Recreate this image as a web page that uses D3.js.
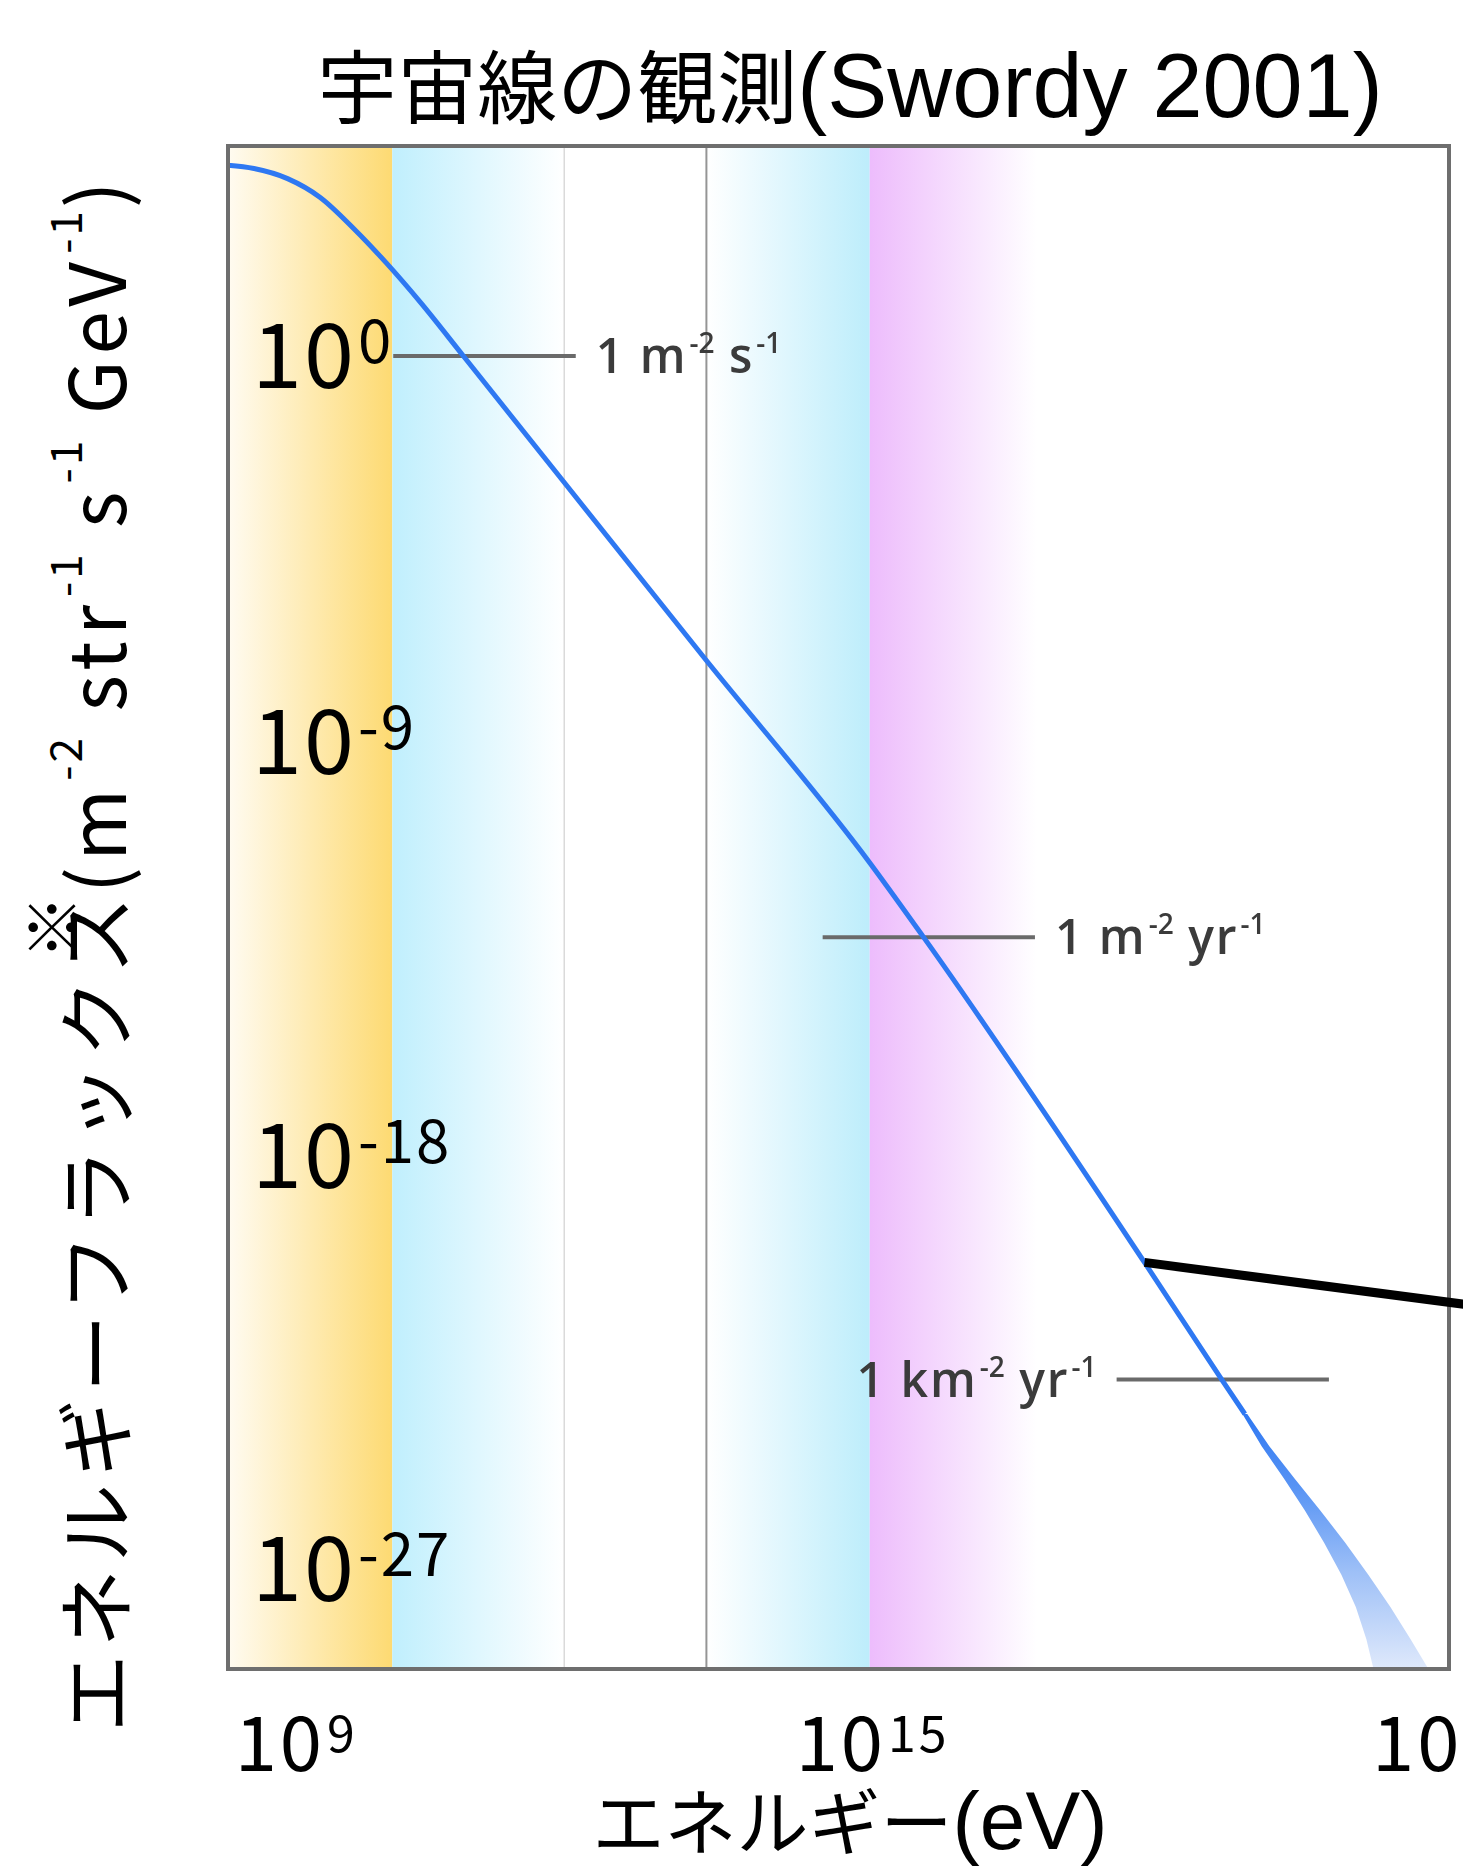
<!DOCTYPE html>
<html>
<head>
<meta charset="utf-8">
<script src="https://cdn.jsdelivr.net/npm/d3@7"></script>
<style>
  body { margin: 0; background: #fff; }
  svg { display: block; }
  text { font-family: "Noto Sans CJK JP", "Noto Sans", sans-serif; white-space: pre; }
</style>
</head>
<body>
<div id="chart"></div>
<script>
// Values, in log10 units (energy in eV)
const curveLogE    = [8.29, 8.56, 8.91, 9.25, 9.60, 9.94, 10.30, 10.74, 13.27, 14.97, 15.53, 17.83, 18.65, 18.875];
const curveLogFlux = [3.58, 3.51, 3.29, 2.88, 2.20, 1.45, 0.58, -0.57, -7.20, -11.60, -13.22, -20.30, -22.90, -23.60];

// widening uncertainty band at the highest energies
const bandLogFlux  = [-23.6, -24.3, -25.0, -25.7, -26.4, -27.1, -27.8, -28.5, -29.2, -29.5];
const bandLogELow  = [18.85, 19.05, 19.28, 19.50, 19.70, 19.88, 20.03, 20.14, 20.22, 20.25];
const bandLogEHigh = [18.90, 19.13, 19.39, 19.66, 19.92, 20.16, 20.39, 20.60, 20.80, 20.88];

// shaded energy ranges and the two thin dividers
const rangeFrom   = [8.29, 10.0, 13.27, 14.97];
const rangeTo     = [10.0, 11.79, 14.97, 16.71];
const dividerLogE = [11.79, 13.27];

// "1 per area per time" reference marks
const markLogFlux = [-0.57, -13.22, -22.85];
const markFrom    = [10.01, 14.48, 17.54];
const markTo      = [11.91, 16.69, 19.75];
const markText    = [
  [["1 m", "-2"], [" s", "-1"]],
  [["1 m", "-2"], [" yr", "-1"]],
  [["1 km", "-2"], [" yr", "-1"]]
];
const markSide    = ["right", "right", "left"];

// thick callout line starting at the knee
const calloutLogE    = [17.83, 21.3];
const calloutLogFlux = [-20.30, -21.25];

// axes
const xTicks      = [9, 11, 13, 15, 17, 19, 21];
const xTickLabels = [9, 15, 21];
const yTicks      = [3, 0, -3, -6, -9, -12, -15, -18, -21, -24, -27];
const yTickLabels = [0, -9, -18, -27];

const titleParts  = ["宇宙線の観測", "(Swordy 2001)"];
const xTitleParts = ["エネルギー", "(eV)"];
const yTitleMain  = "エネルギーフラックス";
const yTitleUnits = [["(m", "-2"], [" str", "-1"], [" s", "-1"], [" GeV", "-1"], [")", ""]];

// styles
const rangeStops = [["#fffbf1", "#fdda72"], ["#c0effd", "#ffffff"], ["#ffffff", "#bdedfb"], ["#edbcfc", "#ffffff"]];
const dividerColors = ["#dadada", "#959595"];
const latinFont = "'Liberation Sans', Arial, sans-serif";

const W = 1463, H = 1870;
const plot = {left: 228, right: 1449, top: 146, bottom: 1669};

const svg = d3.select("#chart")
    .append("svg")
    .attr("width", W)
    .attr("height", H)
    .style("background", "#fff");

const x = d3.scaleLog()
    .domain([Math.pow(10, 8.29), 1e21])
    .range([plot.left, plot.right]);

const y = d3.scaleLog()
    .domain([Math.pow(10, -29.15), 1e4])
    .range([plot.bottom, plot.top]);

const X = e => x(Math.pow(10, e));
const Y = f => y(Math.pow(10, f));

// appends base/superscript pairs; the raise is undone on the next base part
function addParts(textSel, parts, opt) {
    let pending = opt.startShift || 0;
    parts.forEach(([base, sup], k) => {
        const b = textSel.append("tspan")
            .attr("font-size", opt.baseSize)
            .attr("dy", pending)
            .style("letter-spacing", (opt.baseSpacing || 0) + "px")
            .text(base);
        if (k === 0 && opt.startDx) b.attr("dx", opt.startDx);
        pending = 0;
        if (sup) {
            textSel.append("tspan")
                .attr("font-size", opt.supSize)
                .attr("dy", -opt.raise)
                .attr("dx", 2)
                .style("letter-spacing", (opt.supSpacing || 0) + "px")
                .text(sup);
            pending = opt.raise;
        }
    });
}

const defs = svg.append("defs");

defs.append("clipPath").attr("id", "plot-clip")
  .append("rect")
    .attr("x", plot.left).attr("y", plot.top)
    .attr("width", plot.right - plot.left)
    .attr("height", plot.bottom - plot.top);

defs.append("filter").attr("id", "soft")
  .append("feGaussianBlur").attr("stdDeviation", 0.7);

rangeStops.forEach((stops, i) => {
    const g = defs.append("linearGradient").attr("id", "range-" + i)
        .attr("x1", "0").attr("x2", "1").attr("y1", "0").attr("y2", "0");
    g.append("stop").attr("offset", "0").attr("stop-color", stops[0]);
    g.append("stop").attr("offset", "1").attr("stop-color", stops[1]);
});

const bandGrad = defs.append("linearGradient").attr("id", "band-grad")
    .attr("gradientUnits", "userSpaceOnUse")
    .attr("x1", 0).attr("x2", 0)
    .attr("y1", Y(-23.6)).attr("y2", Y(-29.15));
bandGrad.append("stop").attr("offset", "0").attr("stop-color", "#2f78f2");
bandGrad.append("stop").attr("offset", "0.3").attr("stop-color", "#5a95f4");
bandGrad.append("stop").attr("offset", "0.62").attr("stop-color", "#9ec0f7");
bandGrad.append("stop").attr("offset", "1").attr("stop-color", "#dfe9fb");

// shaded ranges
svg.append("g")
  .selectAll("rect")
  .data(rangeFrom)
  .join("rect")
    .attr("x", d => X(d))
    .attr("y", plot.top)
    .attr("width", (d, i) => X(rangeTo[i]) - X(d))
    .attr("height", plot.bottom - plot.top)
    .attr("fill", (d, i) => `url(#range-${i})`);

svg.append("g")
  .selectAll("line")
  .data(dividerLogE)
  .join("line")
    .attr("x1", d => X(d)).attr("x2", d => X(d))
    .attr("y1", plot.top).attr("y2", plot.bottom)
    .attr("stroke", (d, i) => dividerColors[i])
    .attr("stroke-width", (d, i) => i === 0 ? 1.5 : 2);

// ticks (inside the frame)
const yAxis = svg.append("g")
    .attr("transform", `translate(${plot.left},0)`)
    .call(d3.axisLeft(y)
        .tickValues(yTicks.map(t => Math.pow(10, t)))
        .tickSize(-25)
        .tickFormat(""));
yAxis.select(".domain").remove();
yAxis.selectAll("line").attr("stroke", "#666").attr("stroke-width", 3).attr("filter", "url(#soft)");

const xAxis = svg.append("g")
    .attr("transform", `translate(0,${plot.bottom})`)
    .call(d3.axisBottom(x)
        .tickValues(xTicks.map(t => Math.pow(10, t)))
        .tickSize(-27)
        .tickFormat(""));
xAxis.select(".domain").remove();
xAxis.selectAll("line").attr("stroke", "#555").attr("stroke-width", 3).attr("filter", "url(#soft)");

// reference marks
const marks = svg.append("g").attr("filter", "url(#soft)");
markLogFlux.forEach((f, i) => {
    marks.append("line")
        .attr("x1", X(markFrom[i])).attr("x2", X(markTo[i]))
        .attr("y1", Y(f)).attr("y2", Y(f))
        .attr("stroke", "#6b6b6b")
        .attr("stroke-width", 4);

    const right = markSide[i] === "right";
    const t = marks.append("text")
        .attr("x", right ? X(markTo[i]) + 20 : X(markFrom[i]) - 20)
        .attr("y", Y(f) + 17)
        .attr("text-anchor", right ? "start" : "end")
        .style("font-family", "'Open Sans', sans-serif")
        .style("font-weight", 600)
        .attr("fill", "#3a3a3a");
    addParts(t, markText[i], {baseSize: 48, supSize: 28, raise: 20, baseSpacing: 2});
});

// flux curve and the high-energy band
const curveData = curveLogE.map((e, i) => [e, curveLogFlux[i]]);
const bandData = bandLogFlux.map((f, i) => ({f: f, lo: bandLogELow[i], hi: bandLogEHigh[i]}));

const curveG = svg.append("g").attr("clip-path", "url(#plot-clip)");

curveG.append("path")
    .datum(bandData)
    .attr("d", d3.area()
        .curve(d3.curveLinear)
        .y(d => Y(d.f))
        .x0(d => X(d.lo))
        .x1(d => X(d.hi)))
    .attr("fill", "url(#band-grad)")
    .attr("filter", "url(#soft)");

curveG.append("path")
    .datum(curveData)
    .attr("d", d3.line()
        .curve(d3.curveMonotoneX)
        .x(d => X(d[0]))
        .y(d => Y(d[1])))
    .attr("fill", "none")
    .attr("stroke", "#2f78f2")
    .attr("stroke-width", 5)
    .attr("filter", "url(#soft)");

// frame
svg.append("rect")
    .attr("x", plot.left).attr("y", plot.top)
    .attr("width", plot.right - plot.left)
    .attr("height", plot.bottom - plot.top)
    .attr("fill", "none")
    .attr("stroke", "#6e6e6e")
    .attr("stroke-width", 4)
    .attr("filter", "url(#soft)");

// callout line
svg.append("line")
    .attr("x1", X(calloutLogE[0])).attr("y1", Y(calloutLogFlux[0]))
    .attr("x2", X(calloutLogE[1])).attr("y2", Y(calloutLogFlux[1]))
    .attr("stroke", "#000")
    .attr("stroke-width", 9);

// y tick labels, drawn inside the plot
yTickLabels.forEach(t => {
    const txt = svg.append("text")
        .attr("x", plot.left + 24)
        .attr("y", Y(t) + (t === 0 ? 58 : 31))
        .attr("fill", "#000");
    txt.append("tspan").attr("font-size", 90).style("letter-spacing", "2px").text("10");
    txt.append("tspan").attr("font-size", 60).attr("dy", -25).attr("dx", 2)
        .style("letter-spacing", "2px").text(String(t));
});

// x tick labels
xTickLabels.forEach(t => {
    const txt = svg.append("text")
        .attr("x", X(t))
        .attr("y", 1771)
        .attr("text-anchor", "middle")
        .attr("fill", "#000");
    txt.append("tspan").attr("font-size", 76).style("letter-spacing", "3px").text("10");
    txt.append("tspan").attr("font-size", 50).attr("dy", -19).attr("dx", 2)
        .style("letter-spacing", "3px").text(String(t));
});

// titles
const title = svg.append("text")
    .attr("x", 850).attr("y", 117)
    .attr("text-anchor", "middle")
    .attr("fill", "#000");
title.append("tspan").attr("font-size", 80).text(titleParts[0]);
title.append("tspan").attr("font-size", 90).style("font-family", latinFont).text(titleParts[1]);

const xTitle = svg.append("text")
    .attr("x", 850).attr("y", 1849)
    .attr("text-anchor", "middle")
    .attr("fill", "#000");
xTitle.append("tspan").attr("font-size", 72).text(xTitleParts[0]);
xTitle.append("tspan").attr("font-size", 82).style("font-family", latinFont).text(xTitleParts[1]);

const yTitle = svg.append("text")
    .attr("transform", "translate(126,954) rotate(-90)")
    .attr("text-anchor", "middle")
    .attr("fill", "#000");
yTitle.append("tspan").attr("font-size", 78).style("letter-spacing", "7px").text(yTitleMain);
yTitle.append("tspan").attr("font-size", 64).attr("dx", -70).attr("dy", -50).text("※");
addParts(yTitle, yTitleUnits, {
    baseSize: 78, supSize: 44, raise: 44,
    baseSpacing: 6, supSpacing: 3,
    startShift: 50, startDx: 2
});
</script>
</body>
</html>
